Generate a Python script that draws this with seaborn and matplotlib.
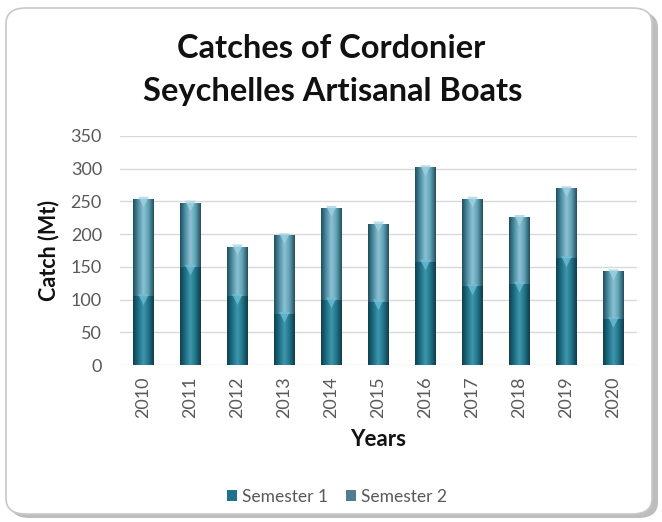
import numpy as np
import pandas as pd
import matplotlib
matplotlib.use("Agg")
import matplotlib.pyplot as plt
import seaborn as sns
from matplotlib.patches import FancyBboxPatch, Patch
from matplotlib.colors import LinearSegmentedColormap

years = ["2010", "2011", "2012", "2013", "2014", "2015", "2016", "2017", "2018", "2019", "2020"]
semester1 = [105, 150, 105, 78, 100, 97, 158, 120, 124, 163, 70]
semester2 = [149, 98, 76, 120, 140, 119, 144, 134, 102, 107, 73]
yticks = [0, 50, 100, 150, 200, 250, 300, 350]

total = [a + b for a, b in zip(semester1, semester2)]
df = pd.DataFrame({"Year": years, "Semester 1": semester1, "Total": total})

sns.set_theme(style="white")
plt.rcParams["font.family"] = ["Lato", "DejaVu Sans"]

fig = plt.figure(figsize=(6.62, 5.22), dpi=100)
fig.patch.set_facecolor("white")

# rounded chart frame with shadow
shadow = FancyBboxPatch((10 / 662, 4 / 522), 648 / 662, 506 / 522,
                        boxstyle="round,pad=0,rounding_size=0.03",
                        transform=fig.transFigure, facecolor="#bdbdbd",
                        edgecolor="none", zorder=0)
frame = FancyBboxPatch((6 / 662, 8 / 522), 646 / 662, 506 / 522,
                       boxstyle="round,pad=0,rounding_size=0.03",
                       transform=fig.transFigure, facecolor="white",
                       edgecolor="#c8c8c8", linewidth=1.2, zorder=1)
fig.patches.extend([shadow, frame])

ax = fig.add_axes([120 / 662, (522 - 365) / 522, 517 / 662, 229 / 522])
ax.set_facecolor("none")
ax.set_zorder(2)

c2 = "#4f95aa"
c1 = "#1f7289"
sns.barplot(data=df, x="Year", y="Total", color=c2, width=0.44, ax=ax,
            saturation=1, edgecolor="none", zorder=3)
sns.barplot(data=df, x="Year", y="Semester 1", color=c1, width=0.44, ax=ax,
            saturation=1, edgecolor="none", zorder=4)

# horizontal gradient shading on bars for a cylindrical look
cmap2 = LinearSegmentedColormap.from_list("s2", ["#1f4f5e", "#4f8fa3", "#8cc3d4", "#5f9fb3", "#234f5d"])
cmap1 = LinearSegmentedColormap.from_list("s1", ["#0f3f4d", "#1d6e84", "#3f97ae", "#1f7389", "#0f3c49"])
grad = np.linspace(0, 1, 64).reshape(1, -1)
n = len(years)
for i, p in enumerate(ax.patches):
    x0, y0 = p.get_x(), p.get_y()
    w, h = p.get_width(), p.get_height()
    cmap = cmap2 if i < n else cmap1
    im = ax.imshow(grad, cmap=cmap, aspect="auto", extent=[x0, x0 + w, y0, y0 + h],
                   zorder=p.get_zorder() + 0.1, interpolation="bilinear")
    im.set_clip_path(p)

# small cap markers at segment tops
xs = np.arange(n)
ax.scatter(xs, np.array(total) - 5, marker="v", s=60, color="#9fd3e2", alpha=0.75,
           edgecolors="none", zorder=6)
ax.scatter(xs, np.array(semester1) - 5, marker="v", s=60, color="#6fc0d6", alpha=0.75,
           edgecolors="none", zorder=6)

ax.set_xlim(-0.5, n - 0.5)
ax.set_ylim(0, 350)
ax.set_yticks(yticks)
ax.set_yticklabels([str(v) for v in yticks], fontsize=13, color="#595959")
ax.tick_params(axis="y", length=0, pad=13)
ax.tick_params(axis="x", length=0, pad=8)
ax.set_xticks(xs)
ax.set_xticklabels(years, rotation=90, fontsize=13, color="#595959")
ax.yaxis.grid(True, color="#d9d9d9", linewidth=1)
ax.set_axisbelow(True)
for s in ax.spines.values():
    s.set_visible(False)

ax.set_xlabel("Years", fontsize=16, fontweight="bold", color="#111111", labelpad=8)
ax.set_ylabel("Catch (Mt)", fontsize=15.5, fontweight="bold", color="#111111")
ax.yaxis.set_label_coords(-0.118, 0.5)

fig.text(331 / 662, 1 - 48 / 522, "Catches of Cordonier", ha="center", va="center",
         fontsize=23.5, fontweight="bold", color="#111111", zorder=5)
fig.text(333 / 662, 1 - 91 / 522, "Seychelles Artisanal Boats", ha="center", va="center",
         fontsize=23.5, fontweight="bold", color="#111111", zorder=5)

handles = [Patch(facecolor=c1, edgecolor="none"), Patch(facecolor="#4f7f8f", edgecolor="none")]
fig.legend(handles, ["Semester 1", "Semester 2"], loc="center", bbox_to_anchor=(337 / 662, 1 - 497 / 522),
           ncol=2, frameon=False, fontsize=12.5, labelcolor="#595959", handlelength=0.6,
           handleheight=0.6, handletextpad=0.3, columnspacing=1.0)

fig.savefig("out.png", dpi=100, facecolor="white")
